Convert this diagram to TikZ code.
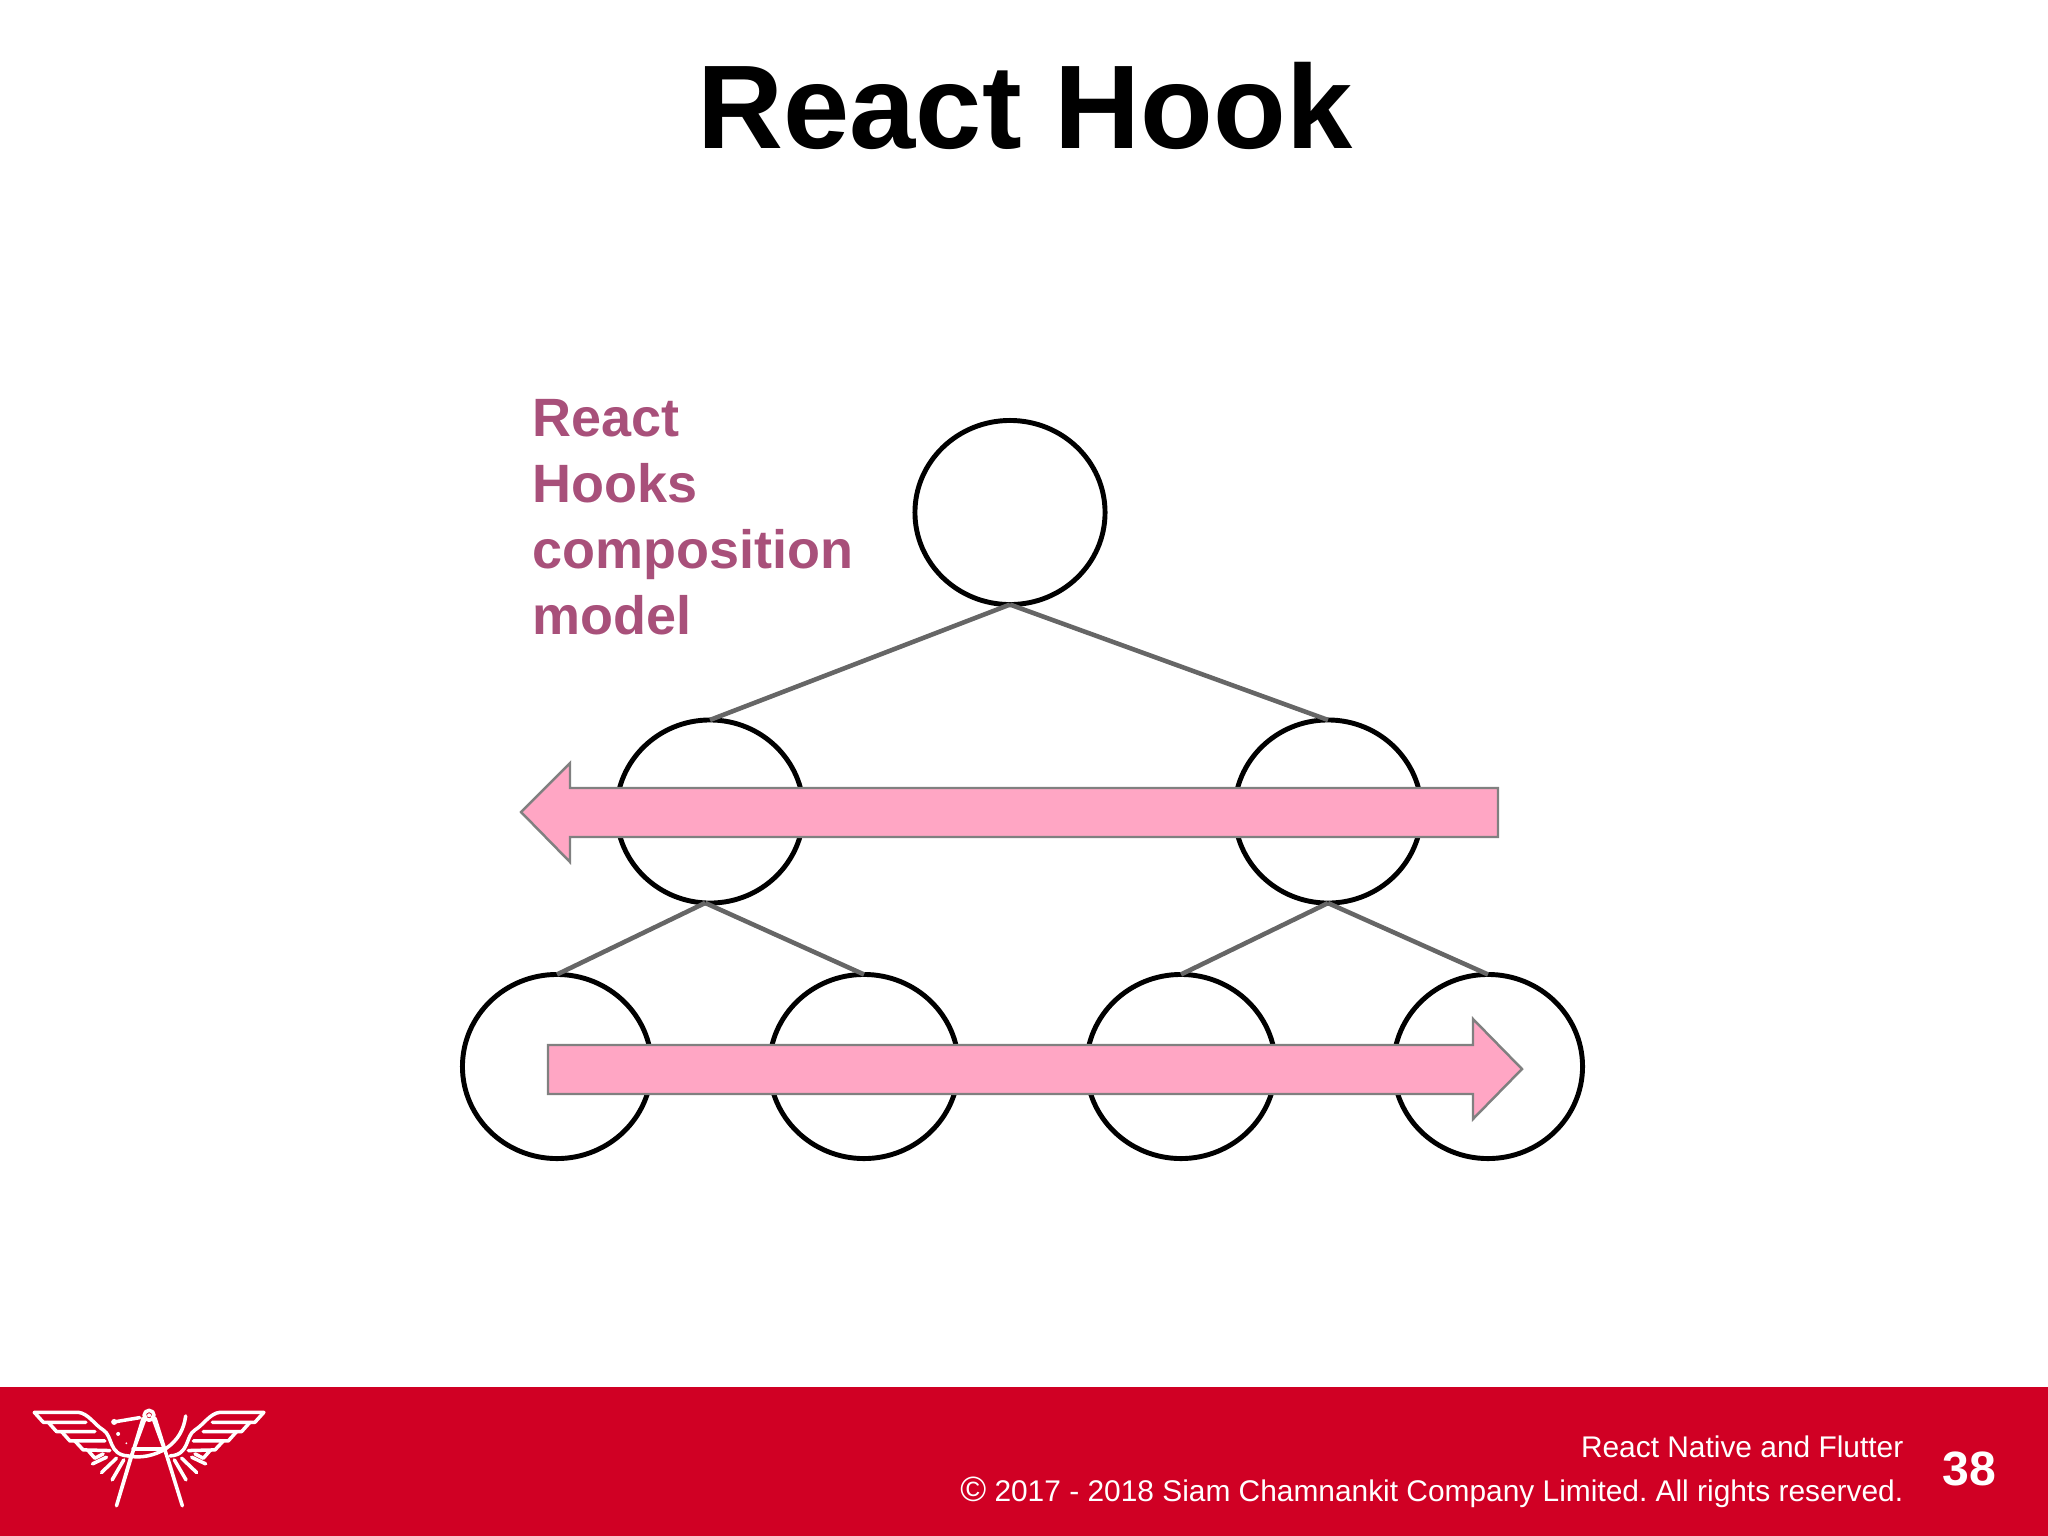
\documentclass[tikz,border=0pt]{standalone}
\usepackage{fontspec}
\usetikzlibrary{shapes.geometric}
\setmainfont{Liberation Sans}
\frenchspacing
\definecolor{footerred}{HTML}{D00024}
\definecolor{labelmauve}{HTML}{A8507A}
\definecolor{arrowpink}{HTML}{FFA6C4}
\definecolor{edgegrey}{HTML}{666666}
\tikzset{
	treenode/.style={ellipse,draw=black,line width=1.4pt,inner sep=0pt,outer sep=0pt},
	treeedge/.style={draw=edgegrey,line width=1.3pt},
	pinkarrow/.style={fill=arrowpink,draw=gray,line width=0.7pt,line join=miter},
	logoline/.style={draw=white,line width=1pt,line join=round,line cap=round}
}

\begin{document}
\begin{tikzpicture}[x=0.01cm,y=-0.01cm]
			\useasboundingbox (0,0) rectangle (2048,1536);
			\fill[footerred] (0,1387) rectangle (2048,1536);
			\node[font=\bfseries\fontsize{33.85}{40}\selectfont,anchor=base] (title) at (1025,148) {React Hook};
			\node[font=\bfseries\fontsize{15.35}{18.8}\selectfont,text=labelmauve,align=left,anchor=north west,inner sep=0pt] (hooks) at (532,398.5) {React\\Hooks\\composition\\model};
			\foreach \name/\x/\y/\w/\h in {root/1010/512.5/1.90/1.84,left/710/811.5/1.87/1.83,right/1328/811.5/1.87/1.83,leafa/557/1066.5/1.89/1.84,leafb/864/1066.5/1.89/1.84,leafc/1181/1066.5/1.89/1.84,leafd/1488/1066.5/1.89/1.84}{
				\node[treenode,minimum width=\w cm,minimum height=\h cm] (\name) at (\x,\y) {};
			}
			\draw[treeedge] (root.south) -- (left.north);
			\draw[treeedge] (root.south) -- (right.north);
			\draw[treeedge] (left.-93) -- (leafa.north);
			\draw[treeedge] (left.-93) -- (leafb.north);
			\draw[treeedge] (right.-90) -- (leafc.north);
			\draw[treeedge] (right.-90) -- (leafd.north);
			\draw[pinkarrow] (1498,788) -- (570,788) -- (570,763) -- (521,812) -- (570,862) -- (570,837) -- (1498,837) -- cycle;
			\draw[pinkarrow] (548,1045) -- (1473,1045) -- (1473,1019) -- (1522,1069) -- (1473,1119) -- (1473,1094) -- (548,1094) -- cycle;
			\node[font=\fontsize{8.5}{10}\selectfont,text=white,anchor=base east,inner sep=0pt] (course) at (1904,1457) {React Native and Flutter};
			\node[font=\fontsize{8.5}{10}\selectfont,text=white,anchor=base east,inner sep=0pt] (rights) at (1904,1501) {{\fontsize{10}{10}\selectfont ©} 2017 - 2018 Siam Chamnankit Company Limited. All rights reserved.};
			\node[font=\bfseries\fontsize{13.7}{16}\selectfont,text=white,anchor=base,inner sep=0pt] (page) at (1969,1485) {38};
			\begin{scope}[shift={(0,1380)},x=0.003333cm,y=-0.003333cm]
				\foreach \flip/\off in {1/0,-1/896}{
					\begin{scope}[shift={(\off,0)},xscale=\flip]
						\draw[logoline] (103,97) -- (235,97) .. controls (265,100) and (285,135) .. (310,150) .. controls (340,168) and (325,225) .. (385,228);
						\draw[logoline] (103,97) -- (130,127) -- (258,127);
						\draw[logoline] (145,127) -- (170,155) -- (285,155);
						\draw[logoline] (185,155) -- (210,183) -- (315,183);
						\draw[logoline] (225,183) -- (250,210) -- (330,212);
						\draw[logoline] (265,212) -- (285,235) -- (310,222);
						\draw[logoline] (278,252) -- (320,232);
						\draw[logoline] (305,278) -- (350,235);
						\draw[logoline] (337,300) -- (372,240);
					\end{scope}
				}
				\draw[logoline] (430,115) -- (350,378) -- (392,235) -- (438,110);
				\draw[logoline] (466,115) -- (548,378) -- (504,235) -- (458,110);
				\draw[logoline] (385,228) .. controls (420,236) and (465,228) .. (500,205);
				\draw[logoline] (400,207) -- (495,207);
				\draw[logoline] (500,205) .. controls (535,180) and (552,150) .. (558,108);
				\draw[logoline] (343,126) -- (420,113);
				\draw[logoline] (448,106) circle (15);
				\fill[white] (448,106) circle (6);
				\fill[white] (343,126) circle (9);
				\fill[white] (355,162) circle (6);
				\fill[white] (380,190) circle (3);
				\fill[white] (494,205) circle (6);
			\end{scope}
		\end{tikzpicture}
\end{document}
